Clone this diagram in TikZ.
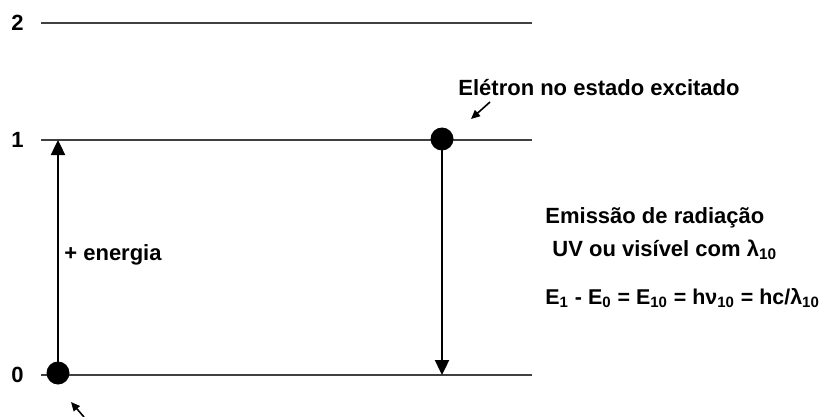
\documentclass[tikz,border=0pt]{standalone}
\usepackage{fontspec}
\setmainfont{Liberation Sans}
\usetikzlibrary{arrows.meta}

\begin{document}
\begin{tikzpicture}[
  x=0.5pt, y=-0.5pt,
  txt/.style={font=\bfseries\fontsize{11pt}{13pt}\selectfont, inner sep=0pt},
  level/.style={line width=1pt, black!75},
  dot/.style={circle, fill=black, inner sep=0pt, minimum size=11.5pt},
  arrow/.style={-{Triangle[length=7.5pt, width=7pt]}, line width=1.2pt},
  ptr/.style={-{Triangle[length=4.5pt, width=4pt]}, line width=0.8pt}
]
\useasboundingbox (0,0) rectangle (824,417);

% niveis de energia
\node[txt, anchor=east] (n2) at (24,23) {2};
\node[txt, anchor=east] (n1) at (24,140) {1};
\node[txt, anchor=east] (n0) at (24,375) {0};
\coordinate (l2a) at (41,23);  \coordinate (l2b) at (532,23);
\coordinate (l1a) at (41,140); \coordinate (l1b) at (532,140);
\coordinate (l0a) at (41,375); \coordinate (l0b) at (532,375);
\draw[level] (l2a) -- (l2b);
\draw[level] (l1a) -- (l1b);
\draw[level] (l0a) -- (l0b);

% absorcao e emissao
\coordinate (up1) at (58,140);
\coordinate (down0) at (442,375);
\node[dot] (e0) at (58,373) {};
\node[dot] (e1) at (442,139) {};
\draw[arrow] (e0.center) -- (up1);
\draw[arrow] (e1.center) -- (down0);

% textos
\node[txt, anchor=west] (exc) at (458,88) {Elétron no estado excitado};
\node[txt, anchor=west] (energ) at (64,255) {+ energia};
\node[txt, anchor=west] (em1) at (545,218) {Emissão de radiação};
\node[txt, anchor=west] (em2) at (552,250) {UV ou visível com λ\textsubscript{10}};
\node[txt, anchor=west, font=\bfseries\fontsize{10.7pt}{13pt}\selectfont] (eq) at (545,298)
  {E\textsubscript{1} - E\textsubscript{0} = E\textsubscript{10} = hν\textsubscript{10} = hc/λ\textsubscript{10}};

% setas indicadoras
\coordinate (p1a) at (490,102); \coordinate (p1b) at (471,119);
\coordinate (p0a) at (84,417);  \coordinate (p0b) at (71,402);
\draw[ptr] (p1a) -- (p1b);
\draw[ptr] (p0a) -- (p0b);
\end{tikzpicture}
\end{document}
